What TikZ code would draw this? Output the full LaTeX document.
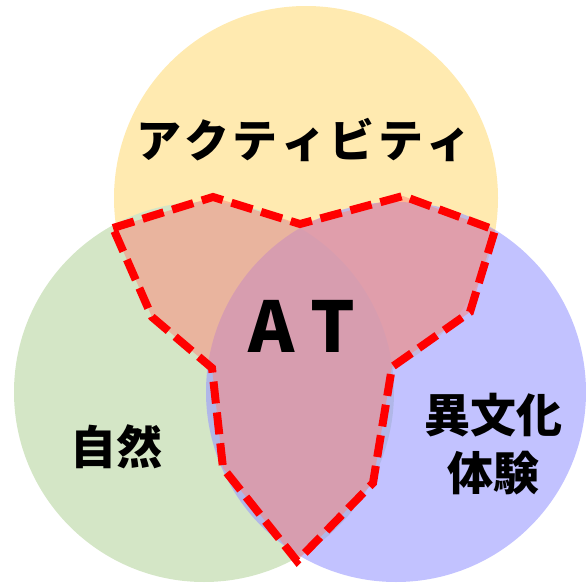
\documentclass[tikz,border=0pt]{standalone}
\usepackage{fontspec}
\newfontfamily\jp{Noto Sans CJK JP}
\definecolor{cyel}{HTML}{FFEAB0}
\definecolor{cgrn}{HTML}{D4E6C6}
\definecolor{cblu}{HTML}{9999FF}
\definecolor{cpink}{HTML}{FF8478}
\newcommand{\gapk}{\hspace{3.5pt}}
\begin{document}
\begin{tikzpicture}[x=1pt,y=-1pt,
  lbl/.style={text=black, inner sep=0pt}]
\useasboundingbox (0,0) rectangle (586,583);
\fill[cyel] (306,198) circle (192);
\fill[cgrn] (204,392) circle (190);
\fill[cblu, fill opacity=0.6] (396,392) circle (190);
\coordinate (p1) at (113,228);
\coordinate (p2) at (213,197);
\coordinate (p3) at (300,224);
\coordinate (p4) at (403,196);
\coordinate (p5) at (495,230);
\coordinate (p6) at (470,312);
\coordinate (p7) at (392,367);
\coordinate (p8) at (373,483);
\coordinate (p9) at (297,561);
\coordinate (p10) at (223,468);
\coordinate (p11) at (212,368);
\coordinate (p12) at (152,317);
\fill[cpink, fill opacity=0.5] (p1) -- (p2) -- (p3) -- (p4) -- (p5) -- (p6) -- (p7) -- (p8) -- (p9) -- (p10) -- (p11) -- (p12) -- cycle;
\draw[red, line width=8pt, dash pattern=on 22pt off 9pt, line join=miter]
  (p1) -- (p2) -- (p3) -- (p4) -- (p5) -- (p6) -- (p7) -- (p8) -- (p9) -- (p10) -- (p11) -- (p12) -- cycle;
\node[lbl, font=\jp\bfseries\fontsize{45}{50}\selectfont] (act) at (304,140) {ア\gapk ク\gapk テ\gapk ィ\gapk ビ\gapk テ\gapk ィ};
\node[lbl, font=\jp\bfseries\fontsize{70}{80}\selectfont] (at) at (302,326) {A T};
\node[lbl, font=\jp\bfseries\fontsize{46}{50}\selectfont] (nat) at (116,447) {自然};
\node[lbl, font=\jp\bfseries\fontsize{46}{58}\selectfont, align=center] (ibk) at (493,444) {異文化\\体験};
\end{tikzpicture}
\end{document}
